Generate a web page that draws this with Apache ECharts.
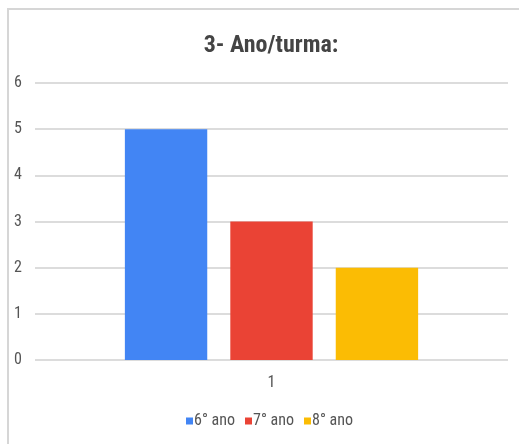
<!DOCTYPE html>
<html>
<head>
<meta charset="utf-8">
<script src="https://cdn.jsdelivr.net/npm/echarts@6/dist/echarts.min.js"></script>
<style>
html,body{margin:0;padding:0;background:#fff;overflow:hidden;}
#frame{position:absolute;left:7px;top:8px;width:600px;height:600px;border-top:2px solid #d6d6d6;border-left:2px solid #d6d6d6;}
#chart{position:absolute;left:0;top:0;width:519px;height:444px;}
</style>
</head>
<body>
<div id="frame"></div>
<div id="chart"></div>
<script>
const titleText = '3- Ano/turma:';
const categories = ['1'];
const seriesNames = ['6° ano', '7° ano', '8° ano'];
const seriesValues = [[5], [3], [2]];
const seriesColors = ['#4285F4', '#EA4335', '#FBBC04'];
const yTicks = {min: 0, max: 6, interval: 1};

const FONT = '"Liberation Sans Narrow", "Roboto Condensed", "DejaVu Sans Condensed", sans-serif';
const chart = echarts.init(document.getElementById('chart'), null, {renderer: 'canvas'});
chart.setOption({
  backgroundColor: 'transparent',
  animation: false,
  textStyle: {fontFamily: FONT},
  title: {
    text: titleText,
    left: 266,
    textAlign: 'center',
    top: 29,
    textStyle: {fontSize: 24, fontWeight: 'bold', color: '#444', fontFamily: FONT}
  },
  legend: {
    bottom: 10,
    left: 181,
    itemWidth: 7,
    itemHeight: 7,
    itemGap: 10,
    icon: 'rect',
    textStyle: {fontSize: 16, color: '#555', padding: [0, 0, 0, -4], fontFamily: FONT},
    data: seriesNames
  },
  grid: {left: 35, right: 11, top: 83, bottom: 84, containLabel: false},
  xAxis: {
    type: 'category',
    data: categories,
    axisLine: {show: false},
    axisTick: {show: false},
    axisLabel: {color: '#555', fontSize: 16, margin: 15, fontFamily: FONT}
  },
  yAxis: {
    type: 'value',
    min: yTicks.min,
    max: yTicks.max,
    interval: yTicks.interval,
    axisLine: {show: false},
    axisTick: {show: false},
    axisLabel: {color: '#555', fontSize: 16, margin: 17, align: 'center', fontFamily: FONT},
    splitLine: {lineStyle: {color: '#dcdcdc', width: 2}}
  },
  series: seriesNames.map((n, i) => ({
    name: n,
    type: 'bar',
    data: seriesValues[i],
    itemStyle: {color: seriesColors[i]},
    barGap: '28%',
    barCategoryGap: '38%'
  }))
});
</script>
</body>
</html>
